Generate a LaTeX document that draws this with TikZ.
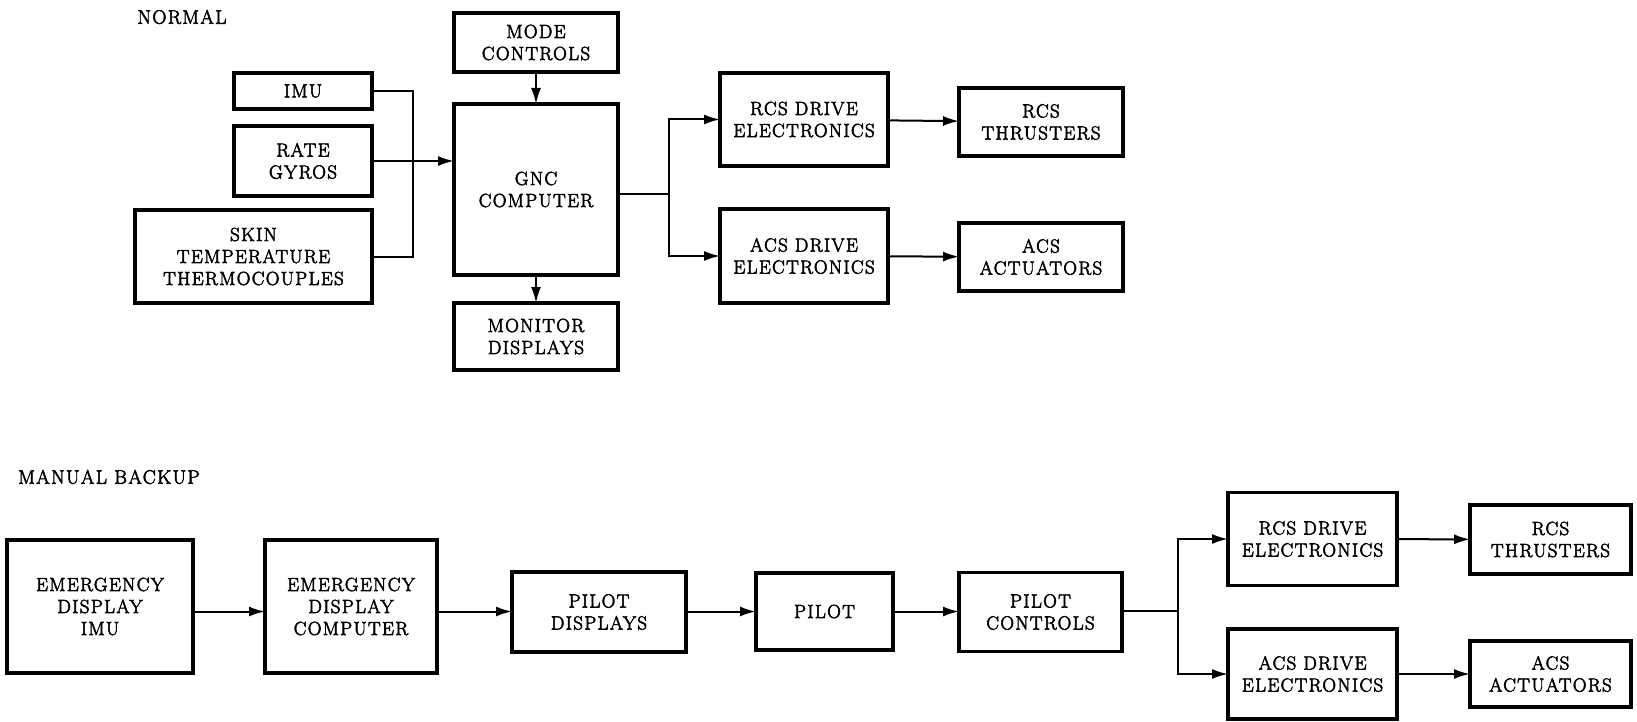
\documentclass[tikz,border=0pt]{standalone}
\usepackage{fontspec}
\setmainfont{Latin Modern Roman}[LetterSpace=7]
\usetikzlibrary{arrows.meta}
\newcommand\heavytext{\special{pdf:literal direct 2 Tr 0.55 w}}
\begin{document}
\begin{tikzpicture}[x=1pt,y=-1pt,
  blk/.style={draw,line width=3.4pt,rectangle,align=center,inner sep=0pt,outer sep=0pt,
     font=\fontsize{19}{22}\selectfont\heavytext},
  lbl/.style={font=\fontsize{19.5}{22}\selectfont\heavytext,inner sep=0pt},
  conn/.style={line width=2pt},
  arr/.style={conn,-{Latex[length=16pt,width=10pt]}}]
\useasboundingbox (0,0) rectangle (1637,722);
% ---------- NORMAL ----------
\node[lbl] (normal) at (182,17) {NORMAL};
\node[blk,minimum width=164pt,minimum height=59pt] (mode) at (536,42.5) {MODE\\CONTROLS};
\node[blk,minimum width=138pt,minimum height=36pt] (imu) at (303,91) {IMU};
\node[blk,minimum width=138pt,minimum height=70pt] (rate) at (303,161) {RATE\\GYROS};
\node[blk,minimum width=237pt,minimum height=93pt] (skin) at (253.5,256.5) {SKIN\\TEMPERATURE\\THERMOCOUPLES};
\node[blk,minimum width=164pt,minimum height=171pt] (gnc) at (536,189.5) {GNC\\COMPUTER};
\node[blk,minimum width=164pt,minimum height=67pt] (mon) at (536,336.5) {MONITOR\\DISPLAYS};
\node[blk,minimum width=168pt,minimum height=93pt] (rcsd) at (804,119.5) {RCS DRIVE\\ELECTRONICS};
\node[blk,minimum width=168pt,minimum height=94pt] (acsd) at (804,256) {ACS DRIVE\\ELECTRONICS};
\node[blk,minimum width=164pt,minimum height=68pt] (rcst) at (1041,122) {RCS\\THRUSTERS};
\node[blk,minimum width=164pt,minimum height=68pt] (acsa) at (1041,257) {ACS\\ACTUATORS};
\coordinate (bus) at (413,175);
\coordinate (split) at (669,194);
\draw[conn] (imu.east) -| (bus) |- (skin.east);
\draw[arr] (rate.east) -- (rate.east -| gnc.west);
\draw[arr] (mode) -- (gnc);
\draw[arr] (gnc) -- (mon);
\draw[conn] (gnc.east |- split) -- (split);
\draw[arr] (split) |- (rcsd.west);
\draw[arr] (split) |- (acsd.west);
\draw[arr] (rcsd) -- (rcst);
\draw[arr] (acsd) -- (acsa);
% ---------- MANUAL BACKUP ----------
\node[lbl] (manual) at (109,477) {MANUAL BACKUP};
\node[blk,minimum width=186pt,minimum height=133pt] (edimu) at (100,606.5) {EMERGENCY\\DISPLAY\\IMU};
\node[blk,minimum width=172pt,minimum height=133pt] (edc) at (351,606.5) {EMERGENCY\\DISPLAY\\COMPUTER};
\node[blk,minimum width=174pt,minimum height=80pt] (pdisp) at (599,612) {PILOT\\DISPLAYS};
\node[blk,minimum width=137pt,minimum height=77pt] (pilot) at (824.5,611.5) {PILOT};
\node[blk,minimum width=163pt,minimum height=79pt] (pctl) at (1040.5,612) {PILOT\\CONTROLS};
\node[blk,minimum width=169pt,minimum height=93pt] (rcsd2) at (1312.5,539) {RCS DRIVE\\ELECTRONICS};
\node[blk,minimum width=169pt,minimum height=90pt] (acsd2) at (1312.5,674) {ACS DRIVE\\ELECTRONICS};
\node[blk,minimum width=161pt,minimum height=69pt] (rcst2) at (1550.5,539.5) {RCS\\THRUSTERS};
\node[blk,minimum width=161pt,minimum height=66pt] (acsa2) at (1550.5,674) {ACS\\ACTUATORS};
\coordinate (split2) at (1178,611);
\draw[arr] (edimu.east |- pilot) -- (edc.west |- pilot);
\draw[arr] (edc.east |- pilot) -- (pdisp.west |- pilot);
\draw[arr] (pdisp.east |- pilot) -- (pilot);
\draw[arr] (pilot) -- (pctl.west |- pilot);
\draw[conn] (pctl.east |- split2) -- (split2);
\draw[arr] (split2) |- (rcsd2.west);
\draw[arr] (split2) |- (acsd2.west);
\draw[arr] (rcsd2) -- (rcst2);
\draw[arr] (acsd2) -- (acsa2);
\end{tikzpicture}
\end{document}
